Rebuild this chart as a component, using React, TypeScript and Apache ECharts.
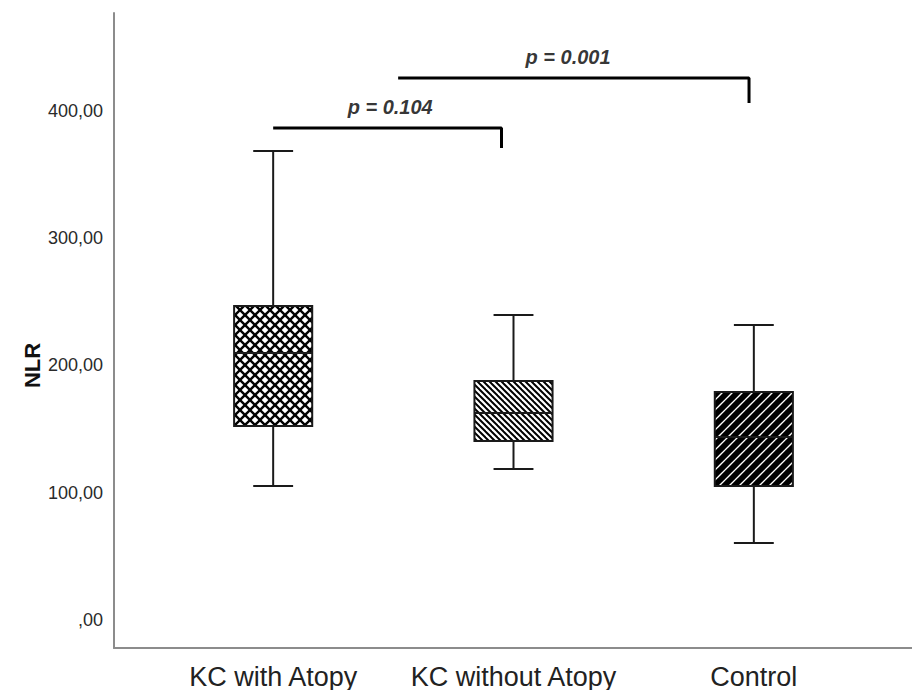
import React, { useEffect, useRef } from "react";
import * as echarts from "echarts";

const categories = ["KC with Atopy", "KC without Atopy", "Control"];
// [lower whisker, Q1, median, Q3, upper whisker]
const boxStats = [
  [105.3, 152.5, 209.8, 246.8, 368.6],
  [118.7, 140.7, 162.7, 187.8, 239.7],
  [60.5, 105.3, 143.8, 179.2, 231.8],
];
const yTicks = [0, 100, 200, 300, 400];
const bracketFrom = [0, 0.52];
const bracketTo = [0.95, 1.98];
const bracketLevel = [386.6, 425.9];
const bracketDrop = [370.9, 406.3];
const pLabels = ["p = 0.104", "p = 0.001"];
const pLabelX = [0.487, 1.227];
const pLabelY = [403, 442.4];

function makePattern(kind: string) {
  const p = kind === "cross" ? 10 : kind === "back" ? 6 : 10;
  const c = document.createElement("canvas");
  c.width = p;
  c.height = p;
  const ctx = c.getContext("2d")!;
  ctx.fillStyle = "#ffffff";
  ctx.fillRect(0, 0, p, p);
  ctx.strokeStyle = "#000000";
  ctx.lineCap = "butt";
  const back = (lw: number) => {
    ctx.lineWidth = lw;
    for (let k = -1; k <= 1; k++) {
      ctx.beginPath();
      ctx.moveTo(k * p - p, -p);
      ctx.lineTo(k * p + 2 * p, 2 * p);
      ctx.stroke();
    }
  };
  const fwd = (lw: number) => {
    ctx.lineWidth = lw;
    for (let k = 0; k <= 2; k++) {
      ctx.beginPath();
      ctx.moveTo(k * p + p, -p);
      ctx.lineTo(k * p - 2 * p, 2 * p);
      ctx.stroke();
    }
  };
  if (kind === "cross") {
    back(2.4);
    fwd(2.4);
  } else if (kind === "back") {
    back(2.0);
  } else {
    fwd(5.8);
  }
  return {
    image: c.toDataURL(),
    repeat: "repeat",
    imageWidth: p,
    imageHeight: p,
  };
}

export default function App() {
  const ref = useRef<HTMLDivElement>(null);

  useEffect(() => {
    if (!ref.current) return;
    const chart = echarts.init(ref.current, null, { renderer: "svg" });
    const patterns = [makePattern("cross"), makePattern("back"), makePattern("fwd")];
    const axisGray = "#8c8c8c";
    const ink = "#1a1a1a";
    const font = "'Liberation Sans', Arial, sans-serif";

    const option: any = {
      animation: false,
      backgroundColor: "#ffffff",
      grid: [
        { left: 114, right: 0, top: 13, bottom: 42 },
        { left: 153, right: 38, top: 13, bottom: 42 },
      ],
      xAxis: [
        {
          type: "category",
          gridIndex: 0,
          data: categories,
          axisLine: { show: true, onZero: false, lineStyle: { color: axisGray, width: 2 } },
          axisTick: { show: false },
          axisLabel: { show: false },
          splitLine: { show: false },
        },
        {
          type: "category",
          gridIndex: 1,
          data: categories,
          axisLine: { show: false, onZero: false },
          axisTick: { show: false },
          splitLine: { show: false },
          axisLabel: {
            show: true,
            interval: 0,
            fontSize: 27,
            color: "#222222",
            margin: 15,
            fontFamily: font,
          },
        },
        {
          type: "value",
          gridIndex: 1,
          min: -0.5,
          max: 2.5,
          show: false,
        },
      ],
      yAxis: [
        {
          type: "value",
          gridIndex: 0,
          min: -22,
          max: 477,
          axisLine: { show: true, onZero: false, lineStyle: { color: axisGray, width: 2 } },
          axisTick: { show: false },
          splitLine: { show: false },
          axisLabel: {
            show: true,
            customValues: yTicks,
            formatter: (v: number) => (v === 0 ? ",00" : `${v},00`),
            fontSize: 18,
            color: "#2a2a2a",
            margin: 11,
            fontFamily: font,
          },
          name: "NLR",
          nameLocation: "middle",
          nameGap: 71,
          nameMoveOverlap: false,
          nameTextStyle: {
            fontSize: 22,
            fontWeight: "bold",
            color: "#111111",
            fontFamily: font,
            padding: [0, 70, 0, 0],
          },
        },
        {
          type: "value",
          gridIndex: 1,
          min: -22,
          max: 477,
          show: false,
        },
      ],
      series: [
        {
          type: "custom",
          xAxisIndex: 1,
          yAxisIndex: 1,
          silent: true,
          encode: { x: 0, y: [1, 2, 3, 4, 5] },
          data: boxStats.map((s, i) => [i, ...s]),
          renderItem: (params: any, api: any) => {
            const x = api.value(0);
            const pMin = api.coord([x, api.value(1)]);
            const pQ1 = api.coord([x, api.value(2)]);
            const pMed = api.coord([x, api.value(3)]);
            const pQ3 = api.coord([x, api.value(4)]);
            const pMax = api.coord([x, api.value(5)]);
            const band = api.size([1, 0])[0];
            const bw = band * 0.325;
            const cw = band * 0.166;
            const cx = pMin[0];
            const ls = { stroke: ink, lineWidth: 2 };
            return {
              type: "group",
              children: [
                { type: "line", shape: { x1: cx, y1: pMax[1], x2: cx, y2: pQ3[1] }, style: ls },
                { type: "line", shape: { x1: cx, y1: pQ1[1], x2: cx, y2: pMin[1] }, style: ls },
                { type: "line", shape: { x1: cx - cw / 2, y1: pMax[1], x2: cx + cw / 2, y2: pMax[1] }, style: ls },
                { type: "line", shape: { x1: cx - cw / 2, y1: pMin[1], x2: cx + cw / 2, y2: pMin[1] }, style: ls },
                {
                  type: "rect",
                  shape: { x: cx - bw / 2, y: pQ3[1], width: bw, height: pQ1[1] - pQ3[1] },
                  style: { fill: patterns[params.dataIndex], stroke: ink, lineWidth: 2 },
                },
                { type: "line", shape: { x1: cx - bw / 2, y1: pMed[1], x2: cx + bw / 2, y2: pMed[1] }, style: ls },
              ],
            };
          },
        },
        ...pLabels.map((_, i) => ({
          type: "line",
          xAxisIndex: 2,
          yAxisIndex: 1,
          silent: true,
          symbol: "none",
          lineStyle: { color: "#000000", width: 3 },
          data: [
            [bracketFrom[i], bracketLevel[i]],
            [bracketTo[i], bracketLevel[i]],
            [bracketTo[i], bracketDrop[i]],
          ],
        })),
        {
          type: "scatter",
          xAxisIndex: 2,
          yAxisIndex: 1,
          silent: true,
          symbolSize: 0,
          data: pLabels.map((t, i) => ({ name: t, value: [pLabelX[i], pLabelY[i]] })),
          label: {
            show: true,
            position: "inside",
            formatter: "{b}",
            fontSize: 20,
            fontStyle: "italic",
            fontWeight: "bold",
            color: "#000000",
            fontFamily: font,
          },
        },
      ],
    };
    chart.setOption(option);
    return () => chart.dispose();
  }, []);

  return (
    <div
      ref={ref}
      style={{ position: "absolute", left: 0, top: 0, width: 912, height: 690 }}
    />
  );
}
